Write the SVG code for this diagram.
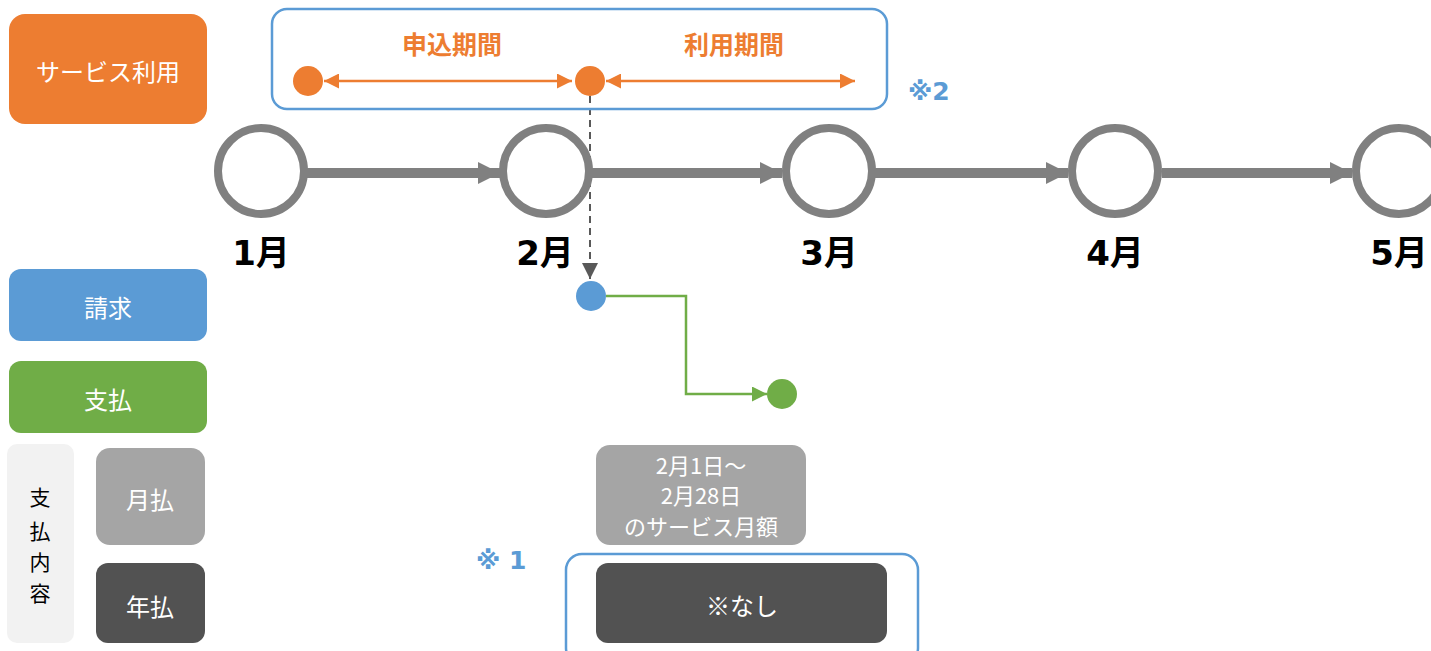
<svg xmlns="http://www.w3.org/2000/svg" width="1431" height="651" viewBox="0 0 1431 651">
<defs>
<style>
.jp{font-family:"Noto Sans CJK JP","Noto Sans",sans-serif;}
.lbl{font-size:24px;fill:#fff;text-anchor:middle;dominant-baseline:central;}
.mon{font-family:"DejaVu Sans","Noto Sans CJK JP",sans-serif;font-weight:bold;font-size:34px;fill:#000;text-anchor:middle;}
.ring{fill:#fff;stroke:#808080;stroke-width:8;}
.tl{stroke:#808080;stroke-width:10;fill:none;}
.or{stroke:#ED7D31;stroke-width:2.5;fill:none;}
.note{font-family:"DejaVu Sans","Noto Sans CJK JP",sans-serif;font-weight:bold;font-size:25px;fill:#5B9BD5;}
</style>
<marker id="ga" viewBox="0 0 10 10" refX="10" refY="5" markerWidth="2.2" markerHeight="2.2" markerUnits="strokeWidth" orient="auto"><path d="M0,0L10,5L0,10z" fill="#808080"/></marker>
<marker id="oa" viewBox="0 0 10 10" refX="10" refY="5" markerWidth="6" markerHeight="6" markerUnits="strokeWidth" orient="auto-start-reverse"><path d="M0,0L10,5L0,10z" fill="#ED7D31"/></marker>
<marker id="da" viewBox="0 0 10 10" refX="10" refY="5" markerWidth="8" markerHeight="8" markerUnits="strokeWidth" orient="auto"><path d="M0,0L10,5L0,10z" fill="#595959"/></marker>
<marker id="gra" viewBox="0 0 10 10" refX="10" refY="5" markerWidth="6" markerHeight="6" markerUnits="strokeWidth" orient="auto"><path d="M0,0L10,5L0,10z" fill="#70AD47"/></marker>
</defs>
<rect width="1431" height="651" fill="#fff"/>

<g id="legend-service"><rect x="9" y="14" width="198" height="110" rx="16" fill="#ED7D31"/><text class="jp lbl" x="108" y="70">サービス利用</text></g>
<g id="legend-invoice"><rect x="9" y="269" width="198" height="72" rx="12" fill="#5B9BD5"/><text class="jp lbl" x="108" y="306">請求</text></g>
<g id="legend-payment"><rect x="9" y="361" width="198" height="72" rx="12" fill="#70AD47"/><text class="jp lbl" x="108" y="398">支払</text></g>
<g id="legend-content"><rect x="7" y="444" width="67" height="199" rx="10" fill="#F2F2F2"/>
<text class="jp" font-size="21" fill="#000" text-anchor="middle"><tspan x="40" y="505">支</tspan><tspan x="40" y="539">払</tspan><tspan x="40" y="570">内</tspan><tspan x="40" y="601">容</tspan></text></g>
<g id="legend-monthly"><rect x="96" y="448" width="109" height="97" rx="14" fill="#A5A5A5"/><text class="jp lbl" x="150" y="498">月払</text></g>
<g id="legend-yearly"><rect x="96" y="563" width="109" height="80" rx="12" fill="#525252"/><text class="jp lbl" x="150" y="605">年払</text></g>

<g id="connectors">
<line class="tl" x1="307" y1="173" x2="500" y2="173" marker-end="url(#ga)"/>
<line class="tl" x1="592" y1="173" x2="782" y2="173" marker-end="url(#ga)"/>
<line class="tl" x1="875" y1="173" x2="1068" y2="173" marker-end="url(#ga)"/>
<line class="tl" x1="1162" y1="173" x2="1352" y2="173" marker-end="url(#ga)"/>
<line class="or" x1="324" y1="81" x2="572" y2="81" marker-start="url(#oa)" marker-end="url(#oa)"/>
<line class="or" x1="606" y1="81" x2="855" y2="81" marker-start="url(#oa)" marker-end="url(#oa)"/>
<line x1="590" y1="96" x2="590" y2="279" stroke="#595959" stroke-width="2" stroke-dasharray="7,5" marker-end="url(#da)"/>
<polyline points="606,296 686,296 686,394 767,394" fill="none" stroke="#70AD47" stroke-width="2.5" marker-end="url(#gra)"/>
</g>

<g id="month-1"><circle class="ring" cx="261" cy="171" r="43"/><text class="mon" x="261" y="265">1月</text></g>
<g id="month-2"><circle class="ring" cx="546" cy="171" r="43"/><text class="mon" x="545" y="265">2月</text></g>
<g id="month-3"><circle class="ring" cx="829" cy="171" r="43"/><text class="mon" x="829" y="265">3月</text></g>
<g id="month-4"><circle class="ring" cx="1115" cy="171" r="43"/><text class="mon" x="1115" y="265">4月</text></g>
<g id="month-5"><circle class="ring" cx="1399" cy="171" r="43"/><text class="mon" x="1399" y="265">5月</text></g>

<g id="period-box"><rect x="272" y="9" width="615" height="100" rx="15" fill="none" stroke="#5B9BD5" stroke-width="2.5"/>
<text class="jp" x="452" y="54" font-size="25" font-weight="bold" fill="#ED7D31" text-anchor="middle">申込期間</text>
<text class="jp" x="734" y="54" font-size="25" font-weight="bold" fill="#ED7D31" text-anchor="middle">利用期間</text>
<circle cx="308" cy="81" r="15" fill="#ED7D31"/>
<circle cx="590" cy="81" r="15" fill="#ED7D31"/></g>
<g id="note2"><text class="note" x="908" y="100">※2</text></g>

<g id="invoice-dot"><circle cx="591" cy="296" r="15" fill="#5B9BD5"/></g>
<g id="payment-dot"><circle cx="782" cy="394" r="15" fill="#70AD47"/></g>

<g id="monthly-amount"><rect x="596" y="445" width="210" height="100" rx="14" fill="#A5A5A5"/>
<text class="jp" font-size="22" fill="#fff" text-anchor="middle"><tspan x="701" y="474">2月1日～</tspan><tspan x="701" y="504">2月28日</tspan><tspan x="701" y="535">のサービス月額</tspan></text></g>
<g id="note1"><text class="note" x="476" y="569">※ 1</text></g>
<g id="yearly-amount"><rect x="566" y="554" width="352" height="110" rx="16" fill="none" stroke="#5B9BD5" stroke-width="2.5"/>
<rect x="596" y="563" width="291" height="80" rx="12" fill="#525252"/>
<text class="jp lbl" x="742" y="604" font-size="22">※なし</text></g>
</svg>
